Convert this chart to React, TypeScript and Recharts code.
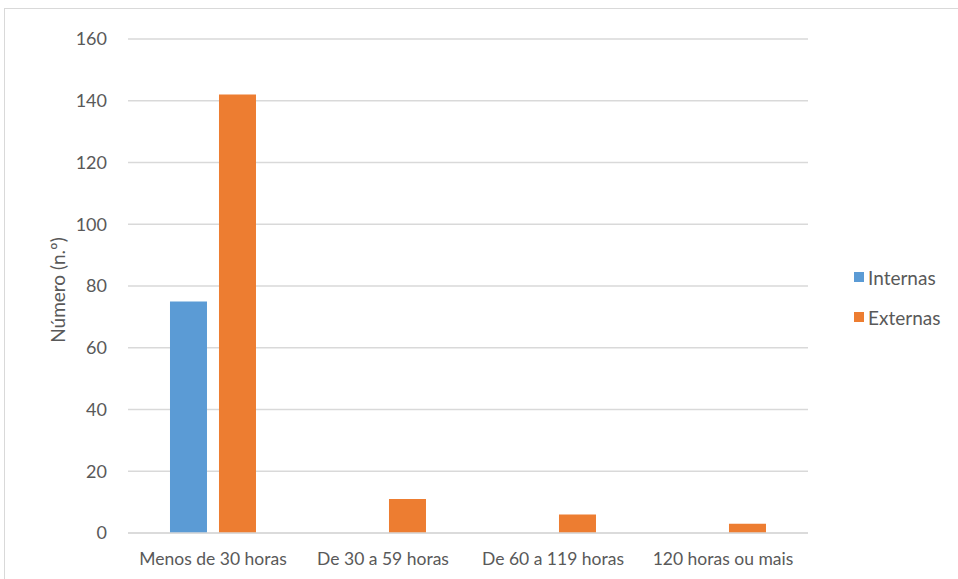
import { BarChart, Bar, XAxis, YAxis, CartesianGrid, Legend, Label } from 'recharts';

const categories = ['Menos de 30 horas', 'De 30 a 59 horas', 'De 60 a 119 horas', '120 horas ou mais'];
const internas = [75, null, null, null];
const externas = [142, 11, 6, 3];
const yTicks = [0, 20, 40, 60, 80, 100, 120, 140, 160];
const seriesOrder = ['Internas', 'Externas'];

const data = categories.map((name, i) => ({
  name,
  internas: internas[i],
  externas: externas[i],
}));

const FONT = 'Lato, "Noto Sans", sans-serif';
const TEXT = '#595959';

function YLabel({ viewBox }: { viewBox?: { x: number; y: number; width: number; height: number } }) {
  if (!viewBox) return null;
  const cx = viewBox.x + 9;
  const cy = viewBox.y + viewBox.height / 2 + 4;
  return (
    <text
      x={cx}
      y={cy}
      transform={`rotate(-90 ${cx} ${cy})`}
      textAnchor="middle"
      dominantBaseline="central"
      fill={TEXT}
      fontSize={19}
      fontFamily={FONT}
    >
      Número (n.º)
    </text>
  );
}

function LegendBox({ payload }: { payload?: Array<{ value: string; color: string }> }) {
  const items = [...(payload || [])].sort(
    (a, b) => seriesOrder.indexOf(a.value) - seriesOrder.indexOf(b.value),
  );
  return (
    <div style={{ fontFamily: FONT, fontSize: 19, color: TEXT }}>
      {items.map((p) => (
        <div key={p.value} style={{ display: 'flex', alignItems: 'center', height: 40 }}>
          <span style={{ width: 10, height: 10, background: p.color, display: 'inline-block', marginRight: 4 }} />
          {p.value}
        </div>
      ))}
    </div>
  );
}

export default function App() {
  return (
    <div style={{ position: 'absolute', left: 0, top: 0, width: 958, height: 579, background: '#fff', overflow: 'hidden' }}>
      <div
        style={{
          position: 'absolute',
          left: 4,
          top: 8,
          width: 980,
          height: 600,
          border: '1px solid #d9d9d9',
        }}
      />
      <div style={{ position: 'absolute', left: 0, top: 0 }}>
        <BarChart
          width={958}
          height={579}
          data={data}
          margin={{ top: 39, right: 150, bottom: 16, left: 48 }}
          barCategoryGap="24.7%"
          barGap={12}
        >
          <CartesianGrid vertical={false} stroke="#d9d9d9" strokeWidth={1.5} />
          <XAxis
            dataKey="name"
            tickLine={false}
            axisLine={{ stroke: '#d9d9d9', strokeWidth: 1.5 }}
            tick={{ fill: TEXT, fontSize: 17.5, fontFamily: FONT }}
            tickMargin={14}
            interval={0}
          />
          <YAxis
            width={80}
            domain={[0, 160]}
            ticks={yTicks}
            axisLine={false}
            tickLine={false}
            tick={{ fill: TEXT, fontSize: 18, fontFamily: FONT }}
            tickMargin={15}
          >
            <Label content={<YLabel />} />
          </YAxis>
          <Legend
            layout="vertical"
            align="center"
            verticalAlign="middle"
            content={<LegendBox />}
            wrapperStyle={{ position: 'absolute', left: 854, top: 257, width: 104 }}
          />
          <Bar dataKey="internas" name="Internas" fill="#5b9bd5" isAnimationActive={false} />
          <Bar dataKey="externas" name="Externas" fill="#ed7d31" isAnimationActive={false} />
        </BarChart>
      </div>
    </div>
  );
}
